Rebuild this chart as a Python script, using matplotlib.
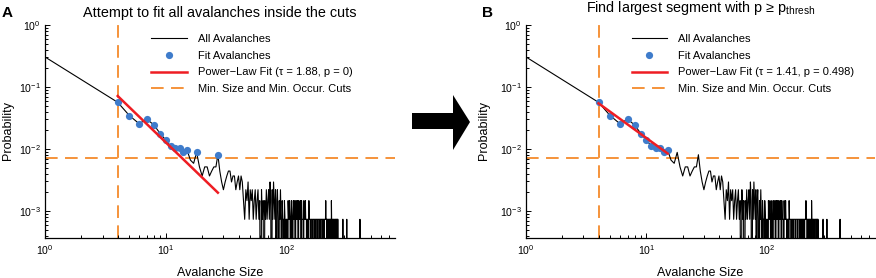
import numpy as np
import matplotlib
matplotlib.use("Agg")
import matplotlib.pyplot as plt
from matplotlib.patches import Polygon

plt.rcParams['font.family'] = ['Liberation Sans', 'DejaVu Sans']
plt.rcParams['mathtext.fontset'] = 'custom'
plt.rcParams['mathtext.rm'] = 'Liberation Sans'
plt.rcParams['mathtext.it'] = 'Liberation Sans:italic'
plt.rcParams['mathtext.bf'] = 'Liberation Sans:bold'

# ---------------- data ----------------
n_avalanches = 1360
count_size_1 = 415
# counts for avalanche sizes 4..100
counts_4_to_100 = [
    77, 47, 35, 41, 33, 24, 19, 15, 14, 14, 12, 13,            # 4-15
    9, 8, 12, 7, 5, 7, 7, 5, 6, 7, 7, 11, 6, 4, 3,            # 16-30
    4, 5, 6, 6, 4, 5, 5, 3, 4, 5,                              # 31-40
    3, 5, 4, 2, 1, 3, 2, 4, 1, 3,                              # 41-50
    2, 3, 1, 2, 3, 1, 2, 3, 1, 2,                              # 51-60
    0, 3, 1, 2, 0, 2, 1, 3, 1, 2,                              # 61-70
    3, 1, 4, 2, 0, 3, 1, 4, 2, 1,                              # 71-80
    3, 0, 2, 3, 1, 0, 2, 1, 3, 1,                              # 81-90
    0, 2, 1, 1, 0, 2, 1, 0, 1, 1,                              # 91-100
]
# counts for avalanche sizes 101..270
counts_101_to_270 = [
    1, 0, 2, 1, 1, 2, 1, 0, 1, 2,
    1, 0, 1, 2, 1, 1, 2, 0, 1, 2,
    1, 1, 2, 1, 0, 2, 1, 1, 1, 2,
    1, 0, 2, 1, 1, 1, 1, 0, 2, 1,
    1, 1, 2, 1, 1, 1, 0, 1, 1, 1,
    1, 0, 2, 1, 1, 1, 1, 1, 0, 1,
    1, 1, 1, 1, 0, 1, 1, 1, 1, 1,
    1, 0, 1, 1, 1, 1, 1, 1, 0, 1,
    1, 1, 1, 1, 1, 0, 1, 1, 1, 1,
    1, 0, 1, 1, 1, 1, 1, 1, 0, 1,
    1, 1, 1, 1, 0, 1, 1, 1, 1, 1,
    2, 1, 1, 1, 1, 0, 1, 1, 1, 0,
    1, 1, 1, 1, 1, 1, 0, 1, 1, 1,
    1, 1, 1, 0, 2, 1, 1, 1, 1, 1,
    1, 0, 1, 1, 1, 1, 1, 0, 0, 1,
    1, 1, 1, 1, 1, 1, 0, 1, 1, 1,
    1, 1, 1, 0, 1, 1, 0, 0, 0, 0,
]
spike_sizes = [292, 293, 315, 405]
spike_counts = [1, 1, 1, 1]
max_size = 790

min_size_cut = 4
min_occurrence_cut = 0.0072

fit_sizes_a = [4, 5, 6, 7, 8, 9, 10, 11, 12, 13, 14, 15, 18, 27]
fit_sizes_b = [4, 5, 6, 7, 8, 9, 10, 11, 12, 13, 14, 15]
tau_a, p_a, fit_start_prob_a, fit_range_a = 1.88, "0", 0.0716, (4, 27)
tau_b, p_b, fit_start_prob_b, fit_range_b = 1.41, "0.498", 0.0546, (4, 15)

# ------------- assemble distribution -------------
sizes = np.arange(1, max_size + 1)
counts = np.zeros(max_size)
counts[0] = count_size_1
counts[3:100] = counts_4_to_100
counts[100:270] = counts_101_to_270
for s, c in zip(spike_sizes, spike_counts):
    counts[s - 1] = c
keep = (sizes == 1) | (sizes >= 4)
sizes = sizes[keep]
probs = counts[keep] / n_avalanches
probs_plot = np.where(probs > 0, probs, 1e-7)
prob_of = dict(zip(sizes, probs))

BLUE = '#3F7CCB'
RED = '#EE1D23'
ORANGE = '#F5933A'

W, H = 876, 278
fig = plt.figure(figsize=(W / 100, H / 100), dpi=100)


def make_panel(left_px, width_px, fit_sizes, tau, pval, p0, frange, title, letter, letter_x, ylab_x, title_base):
    ax = fig.add_axes([left_px / W, 40 / H, width_px / W, 213 / H])
    ax.set_xscale('log')
    ax.set_yscale('log')
    ax.axvline(min_size_cut, color=ORANGE, lw=1.4, ls=(0, (6.5, 3.8)),
               label='Min. Size and Min. Occur. Cuts', zorder=1)
    ax.axhline(min_occurrence_cut, color=ORANGE, lw=1.4, ls=(0, (6.5, 3.8)), zorder=1)
    ax.plot(sizes, probs_plot, color='black', lw=0.8, label='All Avalanches', zorder=2)
    ax.plot(fit_sizes, [prob_of[s] for s in fit_sizes], 'o', color=BLUE, ms=5.2,
            mec='none', label='Fit Avalanches', zorder=3)
    xs = np.array(frange, dtype=float)
    ax.plot(xs, p0 * (xs / frange[0]) ** (-tau), color=RED, lw=1.8,
            label='Power\u2212Law Fit (\u03c4 = %.2f, p = %s)' % (tau, pval), zorder=4)
    ax.set_xlim(1, max_size)
    ax.set_ylim(10 ** -3.435, 1)
    for sp in ('top', 'right'):
        ax.spines[sp].set_visible(False)
    for sp in ('left', 'bottom'):
        ax.spines[sp].set_linewidth(0.9)
    ax.tick_params(which='both', direction='in', labelsize=7.6, width=0.7)
    ax.tick_params(which='major', length=3.5)
    ax.tick_params(which='minor', length=2)
    ax.tick_params(axis='x', pad=4)
    ax.tick_params(axis='y', pad=3)
    h, l = ax.get_legend_handles_labels()
    order = [l.index(n) for n in ['All Avalanches', 'Fit Avalanches', l[3], 'Min. Size and Min. Occur. Cuts']]
    ax.legend([h[i] for i in order], [l[i] for i in order], loc='upper left',
              bbox_to_anchor=(0.29, 0.978), frameon=False, fontsize=8.0,
              handlelength=3.2, handletextpad=1.0, labelspacing=0.6, borderaxespad=0)
    cx = (left_px + width_px / 2) / W
    fig.text(cx, 1 - title_base / H, title, ha='center', va='baseline', fontsize=10.4)
    fig.text(letter_x / W, 1 - 17 / H, letter, ha='left', va='baseline', fontsize=11, fontweight='bold')
    fig.text(ylab_x / W, 1 - 131 / H, 'Probability', rotation=90, ha='center', va='center', fontsize=9)
    fig.text(cx, 1 - 276 / H, 'Avalanche Size', ha='center', va='baseline', fontsize=9)
    return ax


make_panel(45, 350, fit_sizes_a, tau_a, p_a, fit_start_prob_a, fit_range_a,
           'Attempt to fit all avalanches inside the cuts', 'A', 2, 8, 17)
make_panel(526, 349, fit_sizes_b, tau_b, p_b, fit_start_prob_b, fit_range_b,
           'Find largest segment with p \u2265 p$_{\\mathrm{thresh}}$', 'B', 482, 484, 12)

# arrow between the panels (pixel outline)
arrow_px = [(412, 113), (453, 113), (453, 95), (470, 122), (453, 150), (453, 129), (412, 129)]
fig.patches.append(Polygon([(x / W, 1 - y / H) for x, y in arrow_px], closed=True,
                           transform=fig.transFigure, facecolor='black', edgecolor='none'))

fig.savefig('out.png', dpi=100)
